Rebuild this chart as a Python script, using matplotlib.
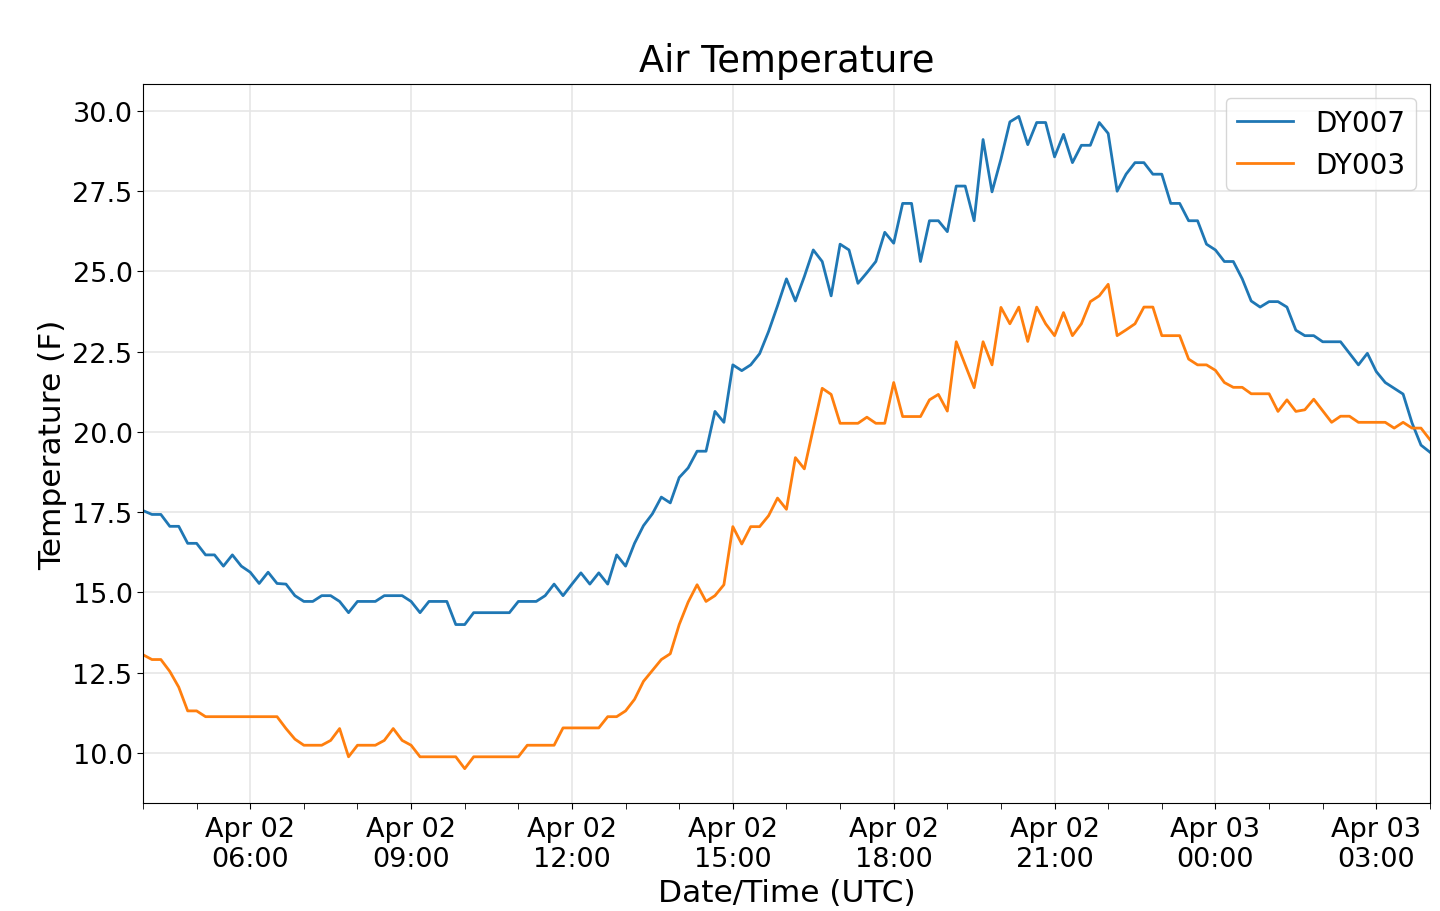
import numpy as np
import pandas as pd
import matplotlib
matplotlib.use('Agg')
from matplotlib import pyplot as plt
import matplotlib.dates as mdates

# 10-minute readings, Apr 02 04:00 -> Apr 03 04:00 (UTC)
times = pd.date_range('2019-04-02 04:00', '2019-04-03 04:00', freq='10min')

dy007 = [
    17.55, 17.43, 17.43, 17.06, 17.06, 16.53, 16.53, 16.17, 16.17, 15.82,
    16.17, 15.82, 15.63, 15.28, 15.63, 15.28, 15.26, 14.90, 14.72, 14.72,
    14.90, 14.90, 14.72, 14.37, 14.72, 14.72, 14.72, 14.90, 14.90, 14.90,
    14.72, 14.37, 14.72, 14.72, 14.72, 14.00, 14.00, 14.37, 14.37, 14.37,
    14.37, 14.37, 14.72, 14.72, 14.72, 14.90, 15.26, 14.90, 15.26, 15.61,
    15.26, 15.61, 15.26, 16.17, 15.82, 16.53, 17.08, 17.45, 17.97, 17.79,
    18.58, 18.88, 19.40, 19.40, 20.64, 20.30, 22.09, 21.91, 22.09, 22.44,
    23.13, 23.93, 24.77, 24.08, 24.84, 25.67, 25.31, 24.24, 25.85, 25.67,
    24.63, 24.96, 25.31, 26.22, 25.88, 27.12, 27.12, 25.31, 26.58, 26.58,
    26.24, 27.66, 27.66, 26.58, 29.11, 27.48, 28.50, 29.66, 29.83, 28.95,
    29.64, 29.64, 28.57, 29.27, 28.39, 28.93, 28.93, 29.64, 29.30, 27.50,
    28.03, 28.39, 28.39, 28.03, 28.03, 27.12, 27.12, 26.58, 26.58, 25.85,
    25.67, 25.31, 25.31, 24.77, 24.08, 23.89, 24.06, 24.06, 23.89, 23.17,
    23.00, 23.00, 22.81, 22.81, 22.81, 22.45, 22.09, 22.45, 21.88, 21.54,
    21.36, 21.18, 20.28, 19.59, 19.37,
]

dy003 = [
    13.06, 12.91, 12.91, 12.54, 12.05, 11.31, 11.31, 11.13, 11.13, 11.13,
    11.13, 11.13, 11.13, 11.13, 11.13, 11.13, 10.76, 10.43, 10.24, 10.24,
    10.24, 10.39, 10.76, 9.88, 10.24, 10.24, 10.24, 10.39, 10.76, 10.39,
    10.24, 9.88, 9.88, 9.88, 9.88, 9.88, 9.51, 9.88, 9.88, 9.88,
    9.88, 9.88, 9.88, 10.24, 10.24, 10.24, 10.24, 10.78, 10.78, 10.78,
    10.78, 10.78, 11.13, 11.13, 11.31, 11.67, 12.23, 12.57, 12.91, 13.09,
    14.00, 14.70, 15.24, 14.72, 14.90, 15.24, 17.05, 16.51, 17.05, 17.05,
    17.39, 17.94, 17.59, 19.20, 18.85, 20.11, 21.36, 21.17, 20.27, 20.27,
    20.27, 20.46, 20.27, 20.27, 21.54, 20.48, 20.48, 20.48, 21.00, 21.17,
    20.65, 22.81, 22.09, 21.38, 22.81, 22.09, 23.88, 23.37, 23.89, 22.82,
    23.89, 23.37, 23.00, 23.72, 23.00, 23.37, 24.06, 24.24, 24.60, 23.00,
    23.18, 23.37, 23.89, 23.89, 23.00, 23.00, 23.00, 22.27, 22.09, 22.09,
    21.92, 21.54, 21.39, 21.39, 21.19, 21.19, 21.19, 20.64, 21.00, 20.64,
    20.69, 21.02, 20.66, 20.30, 20.49, 20.49, 20.30, 20.30, 20.30, 20.30,
    20.12, 20.30, 20.12, 20.12, 19.76, 19.76,
][:len(times)]

fig = plt.figure(figsize=(14.4, 9.12), dpi=100)
ax = fig.add_axes([0.0993, 0.1184, 0.8937, 0.7884])

ax.plot(times, dy007, color='#1f77b4', lw=2, label='DY007')
ax.plot(times, dy003, color='#ff7f0e', lw=2, label='DY003')

ax.set_xlim(times[0], times[-1])
ax.set_ylim(8.44, 30.84)
ax.set_yticks([10.0, 12.5, 15.0, 17.5, 20.0, 22.5, 25.0, 27.5, 30.0])
ax.yaxis.set_major_formatter(matplotlib.ticker.FormatStrFormatter('%.1f'))

ax.xaxis.set_major_locator(mdates.HourLocator(byhour=range(0, 24, 3)))
ax.xaxis.set_minor_locator(mdates.HourLocator())
ax.xaxis.set_major_formatter(mdates.DateFormatter('%b %d\n%H:%M'))

ax.tick_params(axis='both', which='major', labelsize=19.5, length=4)
ax.tick_params(axis='x', which='major', pad=5)
ax.tick_params(axis='x', which='minor', length=4)
ax.grid(True, which='major', color='#e6e6e6', lw=1.2)

ax.set_title('Air Temperature', fontsize=26.5, pad=9)
ax.set_xlabel('Date/Time (UTC)', fontsize=22.5, labelpad=5)
ax.set_ylabel('Temperature (F)', fontsize=22.5)
ax.legend(loc='upper right', fontsize=20)

fig.savefig('out.png', dpi=100)
